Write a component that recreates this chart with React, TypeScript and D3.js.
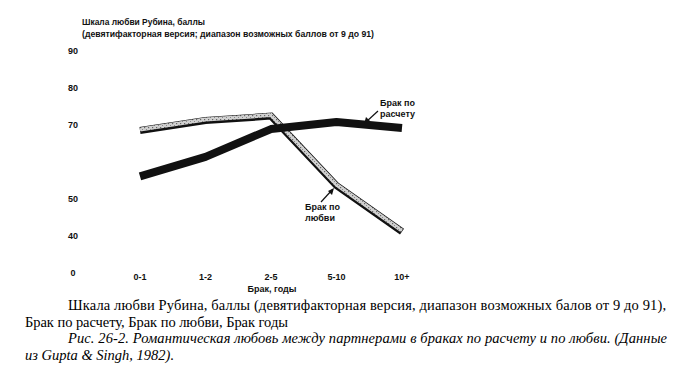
import React from "react";
import * as d3 from "d3";

const categories = ["0-1", "1-2", "2-5", "5-10", "10+"];
const loveValues = [68.5, 71.2, 72.4, 53.6, 41.2];
const arrangedValues = [56.1, 61.4, 68.9, 70.8, 69.2];
const tickValues = [90, 80, 70, 50, 40, 30];
const tickLabels = ["90", "80", "70", "50", "40", "0"];

const W = 680;
const H = 372;

export default function App() {
  const x = d3.scalePoint<string>().domain(categories).range([140, 402]);
  const y = d3.scaleLinear().domain([30, 90]).range([273, 51]);
  const line = d3
    .line<number>()
    .x((_, i) => x(categories[i]) as number)
    .y((d) => y(d));
  const sans = "'Liberation Sans', Arial, sans-serif";
  const serif = "'Liberation Serif', 'Times New Roman', serif";
  return (
    <svg
      width={W}
      height={H}
      style={{ position: "absolute", left: 0, top: 0, background: "#fff" }}
    >
      <defs>
        <pattern id="stip" width="4" height="4" patternUnits="userSpaceOnUse">
          <rect width="4" height="4" fill="#d0d0d0" />
          <rect x="0" y="0" width="1.2" height="1.2" fill="#666" />
          <rect x="2" y="2" width="1" height="1" fill="#888" />
        </pattern>
      </defs>
      <text x={82} y={25} fontFamily={sans} fontWeight="bold" fontSize={9.5} fill="#111" textLength={123} lengthAdjust="spacingAndGlyphs">
        Шкала любви Рубина, баллы
      </text>
      <text x={82} y={37} fontFamily={sans} fontWeight="bold" fontSize={9} fill="#111" textLength={292} lengthAdjust="spacingAndGlyphs">
        (девятифакторная версия; диапазон возможных баллов от 9 до 91)
      </text>
      {tickValues.map((v, i) => (
        <text
          key={v}
          x={73}
          y={y(v)}
          dy="0.35em"
          textAnchor="middle"
          fontFamily={sans}
          fontWeight="bold"
          fontSize={9}
          fill="#111"
        >
          {tickLabels[i]}
        </text>
      ))}
      {categories.map((c) => (
        <text
          key={c}
          x={x(c) as number}
          y={277}
          dy="0.35em"
          textAnchor="middle"
          fontFamily={sans}
          fontWeight="bold"
          fontSize={9}
          fill="#111"
        >
          {c}
        </text>
      ))}
      <text x={272} y={292} textAnchor="middle" fontFamily={sans} fontWeight="bold" fontSize={9} fill="#111">
        Брак, годы
      </text>
      {/* Love marriage line: black edge plus stippled fill */}
      <path d={line(loveValues) || ""} fill="none" stroke="#111" strokeWidth={7} strokeLinejoin="miter" />
      <path
        d={line(loveValues) || ""}
        fill="none"
        stroke="url(#stip)"
        strokeWidth={4}
        transform="translate(0,-1)"
      />
      {/* Arranged marriage line */}
      <path d={line(arrangedValues) || ""} fill="none" stroke="#111" strokeWidth={8} strokeLinejoin="round" />
      {/* annotations */}
      <text x={380} y={106} fontFamily={sans} fontWeight="bold" fontSize={9} fill="#111">
        Брак по
      </text>
      <text x={380} y={117} fontFamily={sans} fontWeight="bold" fontSize={9} fill="#111">
        расчету
      </text>
      <line x1={378} y1={111} x2={366} y2={122} stroke="#111" strokeWidth={1.2} />
      <path d="M364,124 L366,117 L370,121 Z" fill="#111" />
      <text x={305} y={210} fontFamily={sans} fontWeight="bold" fontSize={9} fill="#111">
        Брак по
      </text>
      <text x={305} y={221} fontFamily={sans} fontWeight="bold" fontSize={9} fill="#111">
        любви
      </text>
      <line x1={321} y1={202} x2={332} y2={190} stroke="#111" strokeWidth={1.2} />
      <path d="M334,188 L332,195 L328,191 Z" fill="#111" />
      {/* caption */}
      <text x={68} y={310} fontFamily={serif} fontSize={14.5} fill="#000" textLength={598} lengthAdjust="spacing">
        Шкала любви Рубина, баллы (девятифакторная версия, диапазон возможных балов от 9 до 91),
      </text>
      <text x={25} y={327} fontFamily={serif} fontSize={14.5} fill="#000" textLength={263} lengthAdjust="spacing">
        Брак по расчету, Брак по любви, Брак годы
      </text>
      <text x={68} y={343} fontFamily={serif} fontStyle="italic" fontSize={14.5} fill="#000" textLength={599} lengthAdjust="spacing">
        Рис. 26-2. Романтическая любовь между партнерами в браках по расчету и по любви. (Данные
      </text>
      <text x={25} y={360} fontFamily={serif} fontStyle="italic" fontSize={14.5} fill="#000">
        из Gupta &amp; Singh, 1982).
      </text>
    </svg>
  );
}
